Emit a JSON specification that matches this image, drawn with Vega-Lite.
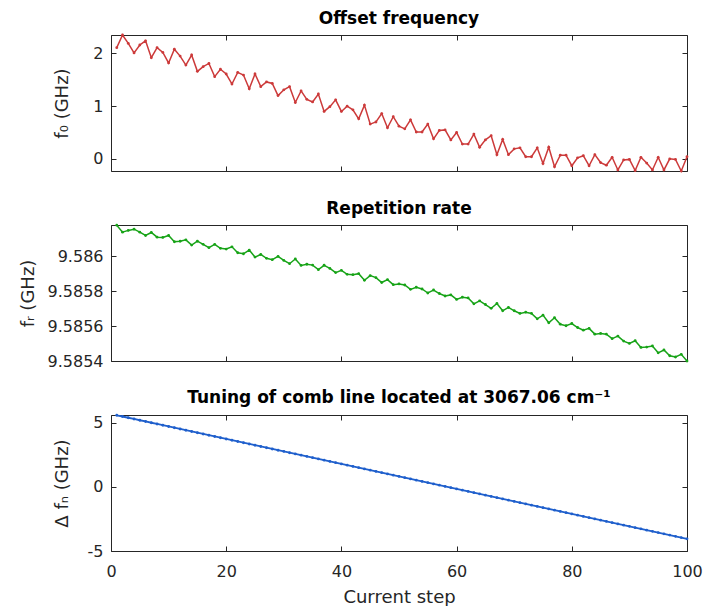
{
  "$schema": "https://vega.github.io/schema/vega-lite/v6.json",
  "padding": {"top": 9, "left": 19, "right": 0, "bottom": 0},
  "background": "white",
  "bounds": "flush",
  "spacing": 54,
  "config": {
    "font": "DejaVu Sans",
    "view": {"stroke": null},
    "axis": {
      "grid": false,
      "domainColor": "#262626",
      "domainWidth": 1,
      "tickColor": "#262626",
      "tickWidth": 1,
      "tickSize": -5,
      "labelColor": "#262626",
      "labelFont": "DejaVu Sans",
      "labelFontSize": 16,
      "titleColor": "#262626",
      "titleFont": "DejaVu Sans",
      "titleFontSize": 18,
      "titleFontWeight": "normal"
    },
    "axisX": {"labelPadding": 17, "titlePadding": 9, "labelFlush": false},
    "axisY": {"labelPadding": 13, "titlePadding": 10},
    "title": {"font": "DejaVu Sans", "fontSize": 17, "fontWeight": "bold", "color": "#000000", "offset": 4.5}
  },
  "data": {"values": [
    {"s":1,"f0":2.11,"fr":9.586179,"d":5.600},
    {"s":2,"f0":2.35,"fr":9.586139,"d":5.503},
    {"s":3,"f0":2.19,"fr":9.586149,"d":5.405},
    {"s":4,"f0":2.01,"fr":9.586156,"d":5.308},
    {"s":5,"f0":2.16,"fr":9.586139,"d":5.210},
    {"s":6,"f0":2.24,"fr":9.586120,"d":5.113},
    {"s":7,"f0":1.92,"fr":9.586137,"d":5.015},
    {"s":8,"f0":2.11,"fr":9.586110,"d":4.918},
    {"s":9,"f0":2.02,"fr":9.586109,"d":4.820},
    {"s":10,"f0":1.82,"fr":9.586120,"d":4.723},
    {"s":11,"f0":2.08,"fr":9.586084,"d":4.625},
    {"s":12,"f0":1.95,"fr":9.586087,"d":4.528},
    {"s":13,"f0":1.78,"fr":9.586095,"d":4.430},
    {"s":14,"f0":1.97,"fr":9.586065,"d":4.333},
    {"s":15,"f0":1.66,"fr":9.586087,"d":4.235},
    {"s":16,"f0":1.75,"fr":9.586069,"d":4.138},
    {"s":17,"f0":1.81,"fr":9.586050,"d":4.040},
    {"s":18,"f0":1.56,"fr":9.586069,"d":3.943},
    {"s":19,"f0":1.70,"fr":9.586046,"d":3.845},
    {"s":20,"f0":1.61,"fr":9.586042,"d":3.748},
    {"s":21,"f0":1.42,"fr":9.586055,"d":3.650},
    {"s":22,"f0":1.64,"fr":9.586021,"d":3.553},
    {"s":23,"f0":1.59,"fr":9.586015,"d":3.455},
    {"s":24,"f0":1.33,"fr":9.586036,"d":3.358},
    {"s":25,"f0":1.61,"fr":9.585996,"d":3.260},
    {"s":26,"f0":1.37,"fr":9.586011,"d":3.163},
    {"s":27,"f0":1.46,"fr":9.585989,"d":3.065},
    {"s":28,"f0":1.43,"fr":9.585981,"d":2.968},
    {"s":29,"f0":1.20,"fr":9.586000,"d":2.870},
    {"s":30,"f0":1.31,"fr":9.585977,"d":2.773},
    {"s":31,"f0":1.37,"fr":9.585958,"d":2.675},
    {"s":32,"f0":1.07,"fr":9.585985,"d":2.578},
    {"s":33,"f0":1.29,"fr":9.585948,"d":2.480},
    {"s":34,"f0":1.13,"fr":9.585955,"d":2.383},
    {"s":35,"f0":1.08,"fr":9.585950,"d":2.285},
    {"s":36,"f0":1.23,"fr":9.585924,"d":2.188},
    {"s":37,"f0":0.90,"fr":9.585949,"d":2.090},
    {"s":38,"f0":0.99,"fr":9.585931,"d":1.993},
    {"s":39,"f0":1.12,"fr":9.585907,"d":1.895},
    {"s":40,"f0":0.90,"fr":9.585920,"d":1.798},
    {"s":41,"f0":1.00,"fr":9.585897,"d":1.700},
    {"s":42,"f0":0.93,"fr":9.585895,"d":1.603},
    {"s":43,"f0":0.76,"fr":9.585901,"d":1.505},
    {"s":44,"f0":1.02,"fr":9.585863,"d":1.408},
    {"s":45,"f0":0.66,"fr":9.585890,"d":1.310},
    {"s":46,"f0":0.70,"fr":9.585878,"d":1.213},
    {"s":47,"f0":0.86,"fr":9.585850,"d":1.115},
    {"s":48,"f0":0.59,"fr":9.585867,"d":1.018},
    {"s":49,"f0":0.80,"fr":9.585838,"d":0.920},
    {"s":50,"f0":0.62,"fr":9.585842,"d":0.823},
    {"s":51,"f0":0.57,"fr":9.585836,"d":0.725},
    {"s":52,"f0":0.74,"fr":9.585811,"d":0.628},
    {"s":53,"f0":0.51,"fr":9.585823,"d":0.530},
    {"s":54,"f0":0.51,"fr":9.585813,"d":0.433},
    {"s":55,"f0":0.66,"fr":9.585790,"d":0.335},
    {"s":56,"f0":0.38,"fr":9.585807,"d":0.238},
    {"s":57,"f0":0.54,"fr":9.585787,"d":0.140},
    {"s":58,"f0":0.55,"fr":9.585773,"d":0.043},
    {"s":59,"f0":0.36,"fr":9.585779,"d":-0.055},
    {"s":60,"f0":0.50,"fr":9.585753,"d":-0.152},
    {"s":61,"f0":0.28,"fr":9.585766,"d":-0.250},
    {"s":62,"f0":0.28,"fr":9.585762,"d":-0.347},
    {"s":63,"f0":0.47,"fr":9.585728,"d":-0.445},
    {"s":64,"f0":0.22,"fr":9.585745,"d":-0.542},
    {"s":65,"f0":0.36,"fr":9.585724,"d":-0.640},
    {"s":66,"f0":0.44,"fr":9.585702,"d":-0.737},
    {"s":67,"f0":0.08,"fr":9.585730,"d":-0.835},
    {"s":68,"f0":0.37,"fr":9.585688,"d":-0.932},
    {"s":69,"f0":0.08,"fr":9.585707,"d":-1.030},
    {"s":70,"f0":0.19,"fr":9.585688,"d":-1.127},
    {"s":71,"f0":0.21,"fr":9.585673,"d":-1.225},
    {"s":72,"f0":0.04,"fr":9.585680,"d":-1.322},
    {"s":73,"f0":0.04,"fr":9.585673,"d":-1.420},
    {"s":74,"f0":0.21,"fr":9.585642,"d":-1.517},
    {"s":75,"f0":-0.09,"fr":9.585663,"d":-1.615},
    {"s":76,"f0":0.22,"fr":9.585619,"d":-1.712},
    {"s":77,"f0":-0.15,"fr":9.585648,"d":-1.810},
    {"s":78,"f0":0.07,"fr":9.585611,"d":-1.907},
    {"s":79,"f0":0.07,"fr":9.585602,"d":-2.005},
    {"s":80,"f0":-0.13,"fr":9.585615,"d":-2.102},
    {"s":81,"f0":0.02,"fr":9.585592,"d":-2.200},
    {"s":82,"f0":0.06,"fr":9.585577,"d":-2.297},
    {"s":83,"f0":-0.13,"fr":9.585587,"d":-2.395},
    {"s":84,"f0":0.08,"fr":9.585554,"d":-2.492},
    {"s":85,"f0":-0.07,"fr":9.585558,"d":-2.590},
    {"s":86,"f0":-0.12,"fr":9.585554,"d":-2.687},
    {"s":87,"f0":0.03,"fr":9.585528,"d":-2.785},
    {"s":88,"f0":-0.21,"fr":9.585543,"d":-2.882},
    {"s":89,"f0":-0.02,"fr":9.585514,"d":-2.980},
    {"s":90,"f0":-0.01,"fr":9.585501,"d":-3.077},
    {"s":91,"f0":-0.22,"fr":9.585516,"d":-3.175},
    {"s":92,"f0":0.03,"fr":9.585478,"d":-3.272},
    {"s":93,"f0":-0.08,"fr":9.585480,"d":-3.370},
    {"s":94,"f0":-0.21,"fr":9.585486,"d":-3.467},
    {"s":95,"f0":0.03,"fr":9.585447,"d":-3.565},
    {"s":96,"f0":-0.21,"fr":9.585463,"d":-3.662},
    {"s":97,"f0":0.00,"fr":9.585430,"d":-3.760},
    {"s":98,"f0":-0.01,"fr":9.585423,"d":-3.857},
    {"s":99,"f0":-0.23,"fr":9.585438,"d":-3.955},
    {"s":100,"f0":0.04,"fr":9.585400,"d":-4.052}
  ]},
  "vconcat": [
    {
      "title": "Offset frequency",
      "width": 576, "height": 136,
      "layer": [
        {
          "mark": {"type": "line", "color": "#cc3a3a", "strokeWidth": 1.5, "point": {"filled": true, "size": 8, "color": "#cc3a3a"}},
          "encoding": {
            "x": {"field": "s", "type": "quantitative", "scale": {"domain": [0, 100], "nice": false}, "axis": {"values": [0,20,40,60,80,100], "labels": false, "title": null}},
            "y": {"field": "f0", "type": "quantitative", "scale": {"domain": [-0.23, 2.35], "nice": false, "zero": false}, "axis": {"values": [0,1,2], "title": "f₀ (GHz)", "titlePadding": 21}}
          }
        },
        {
          "mark": {"type": "line", "opacity": 0},
          "encoding": {
            "x": {"field": "s", "type": "quantitative", "axis": {"orient": "top", "values": [0,20,40,60,80,100], "labels": false, "title": null}},
            "y": {"field": "f0", "type": "quantitative", "axis": {"orient": "right", "values": [0,1,2], "labels": false, "title": null}}
          }
        }
      ],
      "resolve": {"axis": {"x": "independent", "y": "independent"}}
    },
    {
      "title": "Repetition rate",
      "width": 576, "height": 136,
      "layer": [
        {
          "mark": {"type": "line", "color": "#17a317", "strokeWidth": 1.5, "point": {"filled": true, "size": 8, "color": "#17a317"}},
          "encoding": {
            "x": {"field": "s", "type": "quantitative", "scale": {"domain": [0, 100], "nice": false}, "axis": {"values": [0,20,40,60,80,100], "labels": false, "title": null}},
            "y": {"field": "fr", "type": "quantitative", "scale": {"domain": [9.5854, 9.58618], "nice": false, "zero": false}, "axis": {"values": [9.5854, 9.5856, 9.5858, 9.586], "format": ".5~f", "title": "fᵣ (GHz)"}}
          }
        },
        {
          "mark": {"type": "line", "opacity": 0},
          "encoding": {
            "x": {"field": "s", "type": "quantitative", "axis": {"orient": "top", "values": [0,20,40,60,80,100], "labels": false, "title": null}},
            "y": {"field": "fr", "type": "quantitative", "axis": {"orient": "right", "values": [9.5854, 9.5856, 9.5858, 9.586], "labels": false, "title": null}}
          }
        }
      ],
      "resolve": {"axis": {"x": "independent", "y": "independent"}}
    },
    {
      "title": "Tuning of comb line located at 3067.06 cm⁻¹",
      "width": 576, "height": 136,
      "layer": [
        {
          "mark": {"type": "line", "color": "#1f5fcc", "strokeWidth": 1.8, "point": {"filled": true, "size": 8, "color": "#1f5fcc"}},
          "encoding": {
            "x": {"field": "s", "type": "quantitative", "scale": {"domain": [0, 100], "nice": false}, "axis": {"values": [0,20,40,60,80,100], "title": "Current step"}},
            "y": {"field": "d", "type": "quantitative", "scale": {"domain": [-5, 5.62], "nice": false, "zero": false}, "axis": {"values": [-5,0,5], "labelExpr": "replace(datum.label, '−', '-')", "title": "Δ fₙ (GHz)", "titlePadding": 16}}
          }
        },
        {
          "mark": {"type": "line", "opacity": 0},
          "encoding": {
            "x": {"field": "s", "type": "quantitative", "axis": {"orient": "top", "values": [0,20,40,60,80,100], "labels": false, "title": null}},
            "y": {"field": "d", "type": "quantitative", "axis": {"orient": "right", "values": [-5,0,5], "labels": false, "title": null}}
          }
        }
      ],
      "resolve": {"axis": {"x": "independent", "y": "independent"}}
    }
  ]
}
